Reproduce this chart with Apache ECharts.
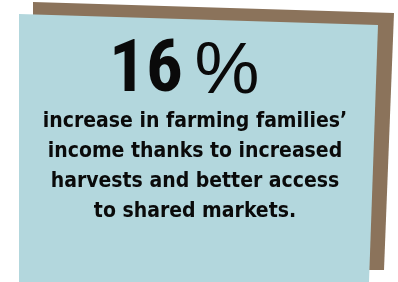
<!DOCTYPE html>
<html>
<head>
<meta charset="utf-8">
<script src="https://cdn.jsdelivr.net/npm/echarts@6/dist/echarts.min.js"></script>
<style>html,body{margin:0;padding:0;background:#fff;}#c{width:398px;height:282px;}</style>
</head>
<body>
<div id="c"></div>
<script>
var statValue = ['16'];
var statUnit = ['%'];
var bodyLines = [
  'increase in farming families\u2019',
  'income thanks to increased',
  'harvests and better access',
  'to shared markets.'
];
var chart = echarts.init(document.getElementById('c'), null, {renderer: 'canvas'});
var bodyFont = '"DejaVu Sans Condensed", "DejaVu Sans"';
var elements = [
  {type: 'polygon', shape: {points: [[33,2],[394,13],[384,270],[33,270]]}, style: {fill: '#8b735b'}},
  {type: 'polygon', shape: {points: [[19,14],[378,25],[369,282],[19,282]]}, style: {fill: '#b3d7dd'}},
  {type: 'text', x: 146, y: 73, style: {text: statValue[0], fill: '#0a0a0a', font: 'bold 73px "Liberation Sans Narrow", "Roboto Condensed", Roboto', textAlign: 'center', textVerticalAlign: 'middle'}},
  {type: 'text', x: 227, y: 73, style: {text: statUnit[0], fill: '#0a0a0a', font: 'normal 73px "Liberation Sans"', textAlign: 'center', textVerticalAlign: 'middle'}}
];
bodyLines.forEach(function (t, i) {
  elements.push({type: 'text', x: 195, y: 122 + 30 * i, style: {text: t, fill: '#0a0a0a', font: 'bold 21px ' + bodyFont, textAlign: 'center', textVerticalAlign: 'middle'}});
});
chart.setOption({animation: false, graphic: {elements: elements}});
</script>
</body>
</html>
